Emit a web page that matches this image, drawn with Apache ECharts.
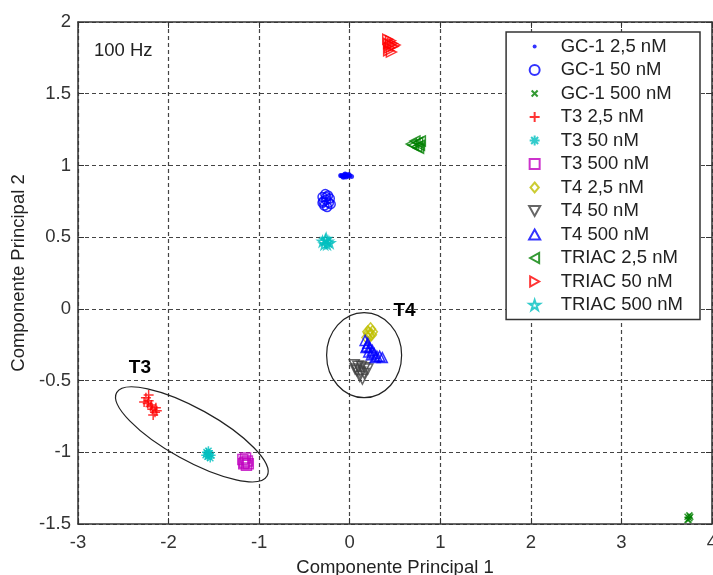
<!DOCTYPE html>
<html>
<head>
<meta charset="utf-8">
<script src="https://cdn.jsdelivr.net/npm/echarts@6/dist/echarts.min.js"></script>
<style>
html, body { margin: 0; padding: 0; background: #fff; }
#chart { width: 713px; height: 575px; }
</style>
</head>
<body>
<div id="chart"></div>
<script>
// ejes
var xRange = [-3, 4];
var yRange = [-1.5, 2];

// nombres de las series (leyenda)
var names = ['GC-1 2,5 nM', 'GC-1 50 nM', 'GC-1 500 nM', 'T3 2,5 nM', 'T3 50 nM', 'T3 500 nM',
             'T4 2,5 nM', 'T4 50 nM', 'T4 500 nM', 'TRIAC 2,5 nM', 'TRIAC 50 nM', 'TRIAC 500 nM'];

// puntos
var gc1_25 = [[-0.1,0.93],[-0.08,0.925],[-0.06,0.935],[-0.05,0.94],[-0.04,0.92],[-0.03,0.93],
              [-0.02,0.925],[0.0,0.93],[0.02,0.922],[-0.07,0.918],[-0.04,0.935],[-0.09,0.928],
              [-0.01,0.936],[-0.06,0.922]];
var gc1_50 = [[-0.3,0.78],[-0.27,0.8],[-0.24,0.79],[-0.22,0.77],[-0.29,0.75],[-0.26,0.76],
              [-0.23,0.74],[-0.28,0.72],[-0.25,0.71],[-0.21,0.73],[-0.3,0.74],[-0.26,0.78]];
var gc1_500 = [[3.73,-1.45],[3.75,-1.46],[3.74,-1.47],[3.76,-1.45],[3.73,-1.47],[3.75,-1.44]];
var t3_25 = [[-2.25,-0.62],[-2.22,-0.6],[-2.27,-0.65],[-2.23,-0.66],[-2.2,-0.68],[-2.18,-0.7],
             [-2.15,-0.72],[-2.13,-0.71],[-2.17,-0.74],[-2.22,-0.64],[-2.19,-0.67],[-2.14,-0.69]];
var t3_50 = [[-1.58,-1.0],[-1.55,-1.01],[-1.57,-1.03],[-1.54,-1.04],[-1.56,-0.99],[-1.59,-1.02],[-1.53,-1.02]];
var t3_500 = [[-1.18,-1.05],[-1.15,-1.04],[-1.13,-1.06],[-1.17,-1.08],[-1.14,-1.09],[-1.16,-1.07],[-1.12,-1.08]];
var t4_25 = [[0.2,-0.16],[0.23,-0.14],[0.25,-0.16],[0.22,-0.19],[0.19,-0.2],[0.24,-0.18],[0.21,-0.17]];
var t4_50 = [[0.05,-0.39],[0.09,-0.4],[0.13,-0.4],[0.17,-0.41],[0.2,-0.42],[0.08,-0.43],
             [0.12,-0.44],[0.16,-0.45],[0.11,-0.47],[0.14,-0.49],[0.06,-0.42]];
var t4_500 = [[0.17,-0.22],[0.2,-0.24],[0.18,-0.27],[0.22,-0.27],[0.25,-0.29],[0.21,-0.3],[0.27,-0.31],
              [0.3,-0.33],[0.33,-0.33],[0.36,-0.34],[0.24,-0.32],[0.28,-0.34],[0.19,-0.26]];
var triac_25 = [[0.68,1.15],[0.72,1.17],[0.75,1.16],[0.77,1.14],[0.74,1.13],[0.7,1.14],[0.78,1.17],[0.76,1.12]];
var triac_50 = [[0.42,1.88],[0.45,1.87],[0.43,1.85],[0.47,1.85],[0.44,1.82],[0.48,1.83],
                [0.43,1.8],[0.46,1.79],[0.5,1.84],[0.45,1.84]];
var triac_500 = [[-0.3,0.47],[-0.27,0.48],[-0.24,0.47],[-0.22,0.46],[-0.28,0.45],[-0.25,0.45],[-0.26,0.49]];

// anotaciones: centro de las elipses y etiquetas
var ellipseCenters = [[-1.743, -0.875], [0.159, -0.323]];
var groupLabels = [[-2.316, -0.41, 'T3'], [0.605, -0.014, 'T4']];

var allData = [gc1_25, gc1_50, gc1_500, t3_25, t3_50, t3_500, t4_25, t4_50, t4_500, triac_25, triac_50, triac_500];

var starPath = 'path://M5,0 L6.12,3.46 L9.76,3.45 L6.81,5.59 L7.94,9.05 L5,6.9 L2.06,9.05 L3.19,5.59 L0.24,3.45 L3.88,3.46 Z';
var styles = [
    {symbol: 'circle', size: 5, color: '#0000ff', fill: true,
     icon: 'path://M0,0 M10,10 M3,5 A2,2 0 1 0 7,5 A2,2 0 1 0 3,5 Z'},
    {symbol: 'circle', size: 9, color: '#0000ff'},
    {symbol: 'path://M0,0L10,10M10,0L0,10', size: 6, color: '#008000',
     icon: 'path://M0,0 M10,10 M2,2 L8,8 M8,2 L2,8'},
    {symbol: 'path://M5,0L5,10M0,5L10,5', size: 10, color: '#ff0000'},
    {symbol: 'path://M5,0L5,10M0,5L10,5M1.5,1.5L8.5,8.5M8.5,1.5L1.5,8.5', size: 9, color: '#00bfbf'},
    {symbol: 'path://M0,0L10,0L10,10L0,10Z', size: 10, color: '#bf00bf'},
    {symbol: 'path://M5,0L10,6L5,12L0,6Z', size: [10, 12], color: '#bfbf00'},
    {symbol: 'path://M0,0L10,0L5,9Z', size: 10, color: '#404040'},
    {symbol: 'path://M5,0L10,9L0,9Z', size: 10, color: '#0000ff'},
    {symbol: 'path://M9,0L9,10L0,5Z', size: 10, color: '#008000'},
    {symbol: 'path://M0,0L0,10L9,5Z', size: 10, color: '#ff0000'},
    {symbol: starPath, size: 10, color: '#00bfbf'}
];
var ellipseShapes = [{rx: 86, ry: 26, rot: -29 * Math.PI / 180}, {rx: 37.5, ry: 42.5, rot: 0}];

var FONT = 'Liberation Sans';
var series = names.map(function (n, i) {
    var s = styles[i];
    return {
        name: n,
        type: 'scatter',
        data: allData[i],
        symbol: s.symbol,
        symbolSize: s.size,
        itemStyle: s.fill ? {color: s.color} :
            {color: 'rgba(0,0,0,0)', borderColor: s.color, borderWidth: 1.5},
        emphasis: {disabled: true},
        z: 3
    };
});

series.push({
    name: 'elipses',
    type: 'custom',
    data: ellipseCenters,
    silent: true,
    z: 2,
    renderItem: function (params, api) {
        var p = api.coord([api.value(0), api.value(1)]);
        var e = ellipseShapes[params.dataIndex];
        return {
            type: 'ellipse', x: p[0], y: p[1], rotation: e.rot,
            shape: {cx: 0, cy: 0, rx: e.rx, ry: e.ry},
            style: {fill: 'none', stroke: '#222', lineWidth: 1.2}
        };
    }
});
series.push({
    name: 'etiquetas',
    type: 'custom',
    data: groupLabels,
    silent: true,
    z: 4,
    renderItem: function (params, api) {
        var p = api.coord([api.value(0), api.value(1)]);
        return {
            type: 'text', x: p[0], y: p[1],
            style: {text: groupLabels[params.dataIndex][2], fontFamily: FONT, fontSize: 19, fontWeight: 'bold',
                    fill: '#000', align: 'center', verticalAlign: 'middle'}
        };
    }
});

var legendData = names.map(function (n, i) {
    return styles[i].icon ? {name: n, icon: styles[i].icon} : {name: n};
});

var gridLine = {show: true, lineStyle: {color: '#444', type: [4, 3], width: 1.2}};
var chart = echarts.init(document.getElementById('chart'));
chart.setOption({
    animation: false,
    backgroundColor: '#fff',
    textStyle: {fontFamily: FONT},
    grid: {left: 78, right: 1, top: 22, bottom: 51, containLabel: false, outerBoundsMode: 'none'},
    xAxis: [{
        type: 'value', min: xRange[0], max: xRange[1], interval: 1,
        name: 'Componente Principal 1', nameLocation: 'middle', nameGap: 34,
        nameTextStyle: {fontSize: 18.5, color: '#222', fontFamily: FONT},
        axisLine: {show: true, onZero: false, lineStyle: {color: '#333', width: 1.5}},
        axisTick: {show: true, inside: true, length: 6, lineStyle: {color: '#333'}},
        axisLabel: {fontSize: 18.5, color: '#333', margin: 9, fontFamily: FONT},
        splitLine: gridLine
    }, {
        type: 'value', min: xRange[0], max: xRange[1], interval: 1, position: 'top',
        axisLine: {show: true, onZero: false, lineStyle: {color: '#333', width: 1.5}},
        axisTick: {show: true, inside: true, length: 6, lineStyle: {color: '#333'}},
        axisLabel: {show: false}, splitLine: {show: false}
    }],
    yAxis: [{
        type: 'value', min: yRange[0], max: yRange[1], interval: 0.5,
        name: 'Componente Principal 2', nameLocation: 'middle', nameGap: 43,
        nameTextStyle: {fontSize: 18.5, color: '#222', fontFamily: FONT},
        axisLine: {show: true, onZero: false, lineStyle: {color: '#333', width: 1.5}},
        axisTick: {show: true, inside: true, length: 6, lineStyle: {color: '#333'}},
        axisLabel: {fontSize: 18.5, color: '#333', margin: 7, fontFamily: FONT},
        splitLine: gridLine
    }, {
        type: 'value', min: yRange[0], max: yRange[1], interval: 0.5, position: 'right',
        axisLine: {show: true, onZero: false, lineStyle: {color: '#333', width: 1.5}},
        axisTick: {show: true, inside: true, length: 6, lineStyle: {color: '#333'}},
        axisLabel: {show: false}, splitLine: {show: false}
    }],
    legend: {
        data: legendData,
        orient: 'vertical',
        right: 13, top: 32,
        padding: [5, 17, 5, 22],
        itemGap: 4.5,
        itemWidth: 42, itemHeight: 10,
        backgroundColor: '#fff',
        borderColor: '#333', borderWidth: 1.5, borderRadius: 0,
        textStyle: {fontSize: 18.5, color: '#222', fontFamily: FONT},
        selectedMode: false
    },
    graphic: [{
        type: 'text', left: 94, top: 41,
        style: {text: '100 Hz', fontFamily: FONT, fontSize: 18.5, fill: '#222'}
    }],
    series: series
});
</script>
</body>
</html>
